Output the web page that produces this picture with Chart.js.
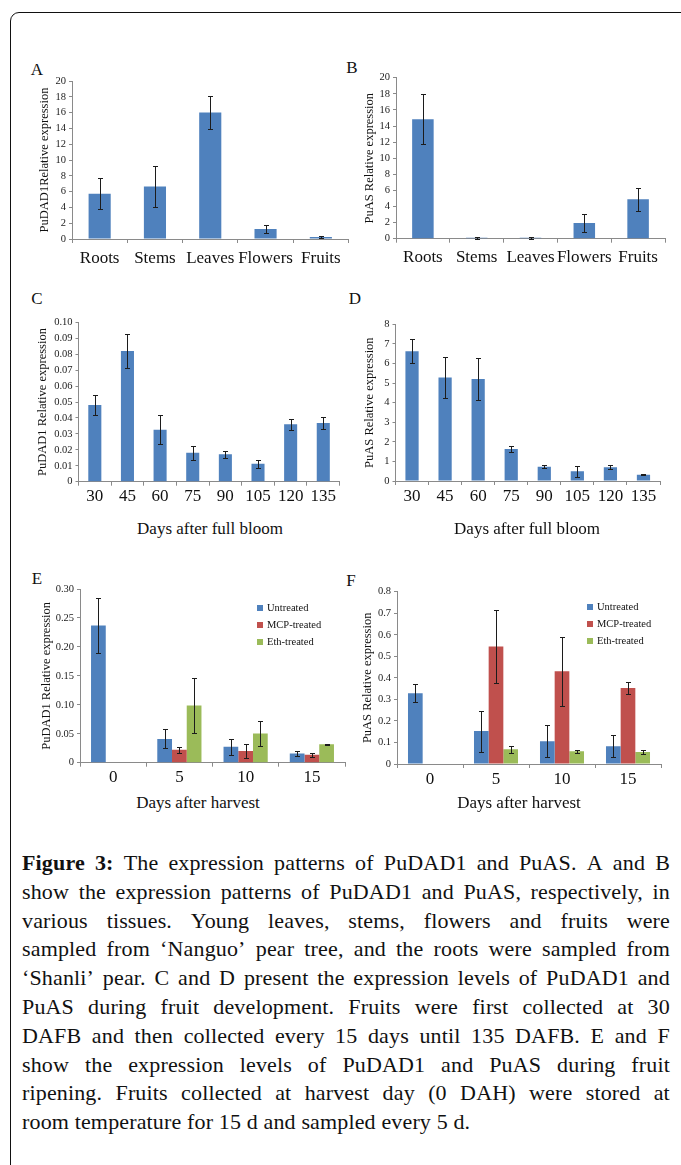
<!DOCTYPE html>
<html>
<head>
<meta charset="utf-8">
<script src="https://cdn.jsdelivr.net/npm/chart.js@4.4.1/dist/chart.umd.min.js"></script>
<style>
  html, body { margin: 0; padding: 0; background: #fff; }
  body { width: 681px; height: 1165px; position: relative; overflow: hidden; font-family: "Liberation Serif", "Times New Roman", serif; color: #111; }
  .frame { position: absolute; left: 10px; top: 12px; width: 740px; height: 1220px; border: 1.5px solid #111; border-radius: 9px; box-sizing: border-box; }
  canvas { position: absolute; }
  .letter { position: absolute; font-size: 17px; line-height: 17px; transform: translate(-50%, -50%); }
  .xtitle { position: absolute; font-size: 17px; line-height: 17px; white-space: nowrap; transform: translate(-50%, -50%); }
  .legend { position: absolute; font-size: 10.5px; line-height: 17px; }
  .legend div { display: flex; align-items: center; white-space: nowrap; }
  .legend span { display: inline-block; width: 6px; height: 6px; margin-right: 4px; }
  .caption { position: absolute; left: 22px; top: 849px; width: 648px; font-size: 22px; line-height: 28.8px; letter-spacing: 0.15px; }
  .caption .line { display: flex; justify-content: space-between; white-space: nowrap; height: 28.8px; }
  .caption .last { display: block; white-space: nowrap; height: 28.8px; }
</style>
</head>
<body>
<div class="frame"></div>

<div class="letter" style="left:37px;top:69px">A</div>
<div class="letter" style="left:352px;top:67px">B</div>
<div class="letter" style="left:37px;top:298px">C</div>
<div class="letter" style="left:355px;top:298px">D</div>
<div class="letter" style="left:37px;top:578px">E</div>
<div class="letter" style="left:351px;top:580px">F</div>

<canvas id="chartA"></canvas>
<canvas id="chartB"></canvas>
<canvas id="chartC"></canvas>
<canvas id="chartD"></canvas>
<canvas id="chartE"></canvas>
<canvas id="chartF"></canvas>

<div class="xtitle" style="left:210px;top:528px">Days after full bloom</div>
<div class="xtitle" style="left:527px;top:528px">Days after full bloom</div>
<div class="xtitle" style="left:198px;top:802px">Days after harvest</div>
<div class="xtitle" style="left:519px;top:802px">Days after harvest</div>

<div class="legend" id="legendE" style="left:257px;top:599px"></div>
<div class="legend" id="legendF" style="left:587px;top:598px"></div>

<div class="caption" id="caption"></div>

<script>
// ---- data ----
const tissues = ['Roots', 'Stems', 'Leaves', 'Flowers', 'Fruits'];
const dafb = ['30', '45', '60', '75', '90', '105', '120', '135'];
const dah = ['0', '5', '10', '15'];
const seriesNames = ['Untreated', 'MCP-treated', 'Eth-treated'];

// A: PuDAD1 in tissues
const dad1Tissue = [5.73, 6.65, 16.0, 1.26, 0.25];
const dad1TissueErr = [1.95, 2.6, 2.05, 0.52, 0.14];
// B: PuAS in tissues
const asTissue = [14.85, 0.12, 0.12, 1.95, 4.9];
const asTissueErr = [3.12, 0.1, 0.12, 1.06, 1.41];
// C: PuDAD1 during development
const dad1Dev = [0.0481, 0.082, 0.0326, 0.0182, 0.0172, 0.0113, 0.0361, 0.0368];
const dad1DevErr = [0.0062, 0.0107, 0.0092, 0.0044, 0.0022, 0.0024, 0.0035, 0.0037];
// D: PuAS during development
const asDev = [6.63, 5.29, 5.21, 1.63, 0.73, 0.5, 0.7, 0.32];
const asDevErr = [0.6, 1.04, 1.08, 0.17, 0.09, 0.28, 0.1, 0.035];
// E: PuDAD1 during ripening
const dad1Untreated = [0.237, 0.041, 0.0276, 0.0161];
const dad1UntreatedErr = [0.048, 0.0164, 0.0135, 0.004];
const dad1Mcp = [null, 0.0222, 0.0202, 0.0136];
const dad1McpErr = [null, 0.005, 0.0127, 0.003];
const dad1Eth = [null, 0.099, 0.0504, 0.0317];
const dad1EthErr = [null, 0.047, 0.021, 0.0012];
// F: PuAS during ripening
const asUntreated = [0.328, 0.153, 0.106, 0.082];
const asUntreatedErr = [0.042, 0.095, 0.074, 0.051];
const asMcp = [null, 0.546, 0.431, 0.353];
const asMcpErr = [null, 0.17, 0.16, 0.028];
const asEth = [null, 0.068, 0.059, 0.056];
const asEthErr = [null, 0.016, 0.007, 0.009];

// y axis ticks
const ticksTissue = [0, 2, 4, 6, 8, 10, 12, 14, 16, 18, 20];
const ticksTissueLabels = ['0', '2', '4', '6', '8', '10', '12', '14', '16', '18', '20'];
const ticksC = [0, 0.01, 0.02, 0.03, 0.04, 0.05, 0.06, 0.07, 0.08, 0.09, 0.10];
const ticksCLabels = ['0', '0.01', '0.02', '0.03', '0.04', '0.05', '0.06', '0.07', '0.08', '0.09', '0.10'];
const ticksD = [0, 1, 2, 3, 4, 5, 6, 7, 8];
const ticksDLabels = ['0', '1', '2', '3', '4', '5', '6', '7', '8'];
const ticksE = [0, 0.05, 0.10, 0.15, 0.20, 0.25, 0.30];
const ticksELabels = ['0', '0.05', '0.10', '0.15', '0.20', '0.25', '0.30'];
const ticksF = [0, 0.1, 0.2, 0.3, 0.4, 0.5, 0.6, 0.7, 0.8];
const ticksFLabels = ['0', '0.1', '0.2', '0.3', '0.4', '0.5', '0.6', '0.7', '0.8'];

const captionLines = [
  'The expression patterns of PuDAD1 and PuAS. A and B',
  'show the expression patterns of PuDAD1 and PuAS, respectively, in',
  'various tissues. Young leaves, stems, flowers and fruits were',
  'sampled from \u2018Nanguo\u2019 pear tree, and the roots were sampled from',
  '\u2018Shanli\u2019 pear. C and D present the expression levels of PuDAD1 and',
  'PuAS during fruit development. Fruits were first collected at 30',
  'DAFB and then collected every 15 days until 135 DAFB. E and F',
  'show the expression levels of PuDAD1 and PuAS during fruit',
  'ripening. Fruits collected at harvest day (0 DAH) were stored at',
  'room temperature for 15 d and sampled every 5 d.'
];

// ---- styling ----
const BLUE = '#4F81BD', RED = '#C0504D', GREEN = '#9BBB59';
const AXIS = '#8a8a8a';
const FONT = '"Liberation Serif", "Times New Roman", serif';

// error bars drawn through the y scale
const errorBars = {
  id: 'errorBars',
  afterDatasetsDraw(chart) {
    const ctx = chart.ctx;
    const y = chart.scales.y;
    chart.data.datasets.forEach((ds, i) => {
      const meta = chart.getDatasetMeta(i);
      meta.data.forEach((bar, j) => {
        const v = ds.data[j], e = ds.errors[j];
        if (v == null || e == null) return;
        const top = Math.round(y.getPixelForValue(v + e)) + 0.5;
        const bot = Math.round(y.getPixelForValue(v - e)) + 0.5;
        const x = Math.round(bar.x) + 0.5;
        ctx.save();
        ctx.strokeStyle = '#1c1c1c';
        ctx.lineWidth = 1;
        ctx.beginPath();
        ctx.moveTo(x, top); ctx.lineTo(x, bot);
        ctx.moveTo(x - 2.5, top); ctx.lineTo(x + 2.5, top);
        ctx.moveTo(x - 2.5, bot); ctx.lineTo(x + 2.5, bot);
        ctx.stroke();
        ctx.restore();
      });
    });
  }
};

function makeChart(id, box, plot, labels, datasets, yTicks, yLabels, yTitle, yTitleX, xPad) {
  const cv = document.getElementById(id);
  cv.style.left = box.x + 'px';
  cv.style.top = box.y + 'px';
  cv.width = box.w;
  cv.height = box.h;
  cv.style.width = box.w + 'px';
  cv.style.height = box.h + 'px';
  const titleSize = 12.5;
  return new Chart(cv, {
    type: 'bar',
    data: { labels: labels, datasets: datasets },
    plugins: [errorBars],
    options: {
      responsive: false,
      animation: false,
      layout: { padding: { top: plot.t - box.y, right: box.x + box.w - plot.r, left: 0, bottom: 0 } },
      plugins: { legend: { display: false }, tooltip: { enabled: false } },
      scales: {
        x: {
          grid: { offset: true, drawOnChartArea: false, tickLength: 4, color: AXIS },
          border: { color: AXIS },
          ticks: { font: { family: FONT, size: 17 }, color: '#111', padding: xPad, maxRotation: 0, autoSkip: false },
          afterFit: s => { s.height = box.y + box.h - plot.b; }
        },
        y: {
          min: 0,
          max: yTicks[yTicks.length - 1],
          afterBuildTicks: s => { s.ticks = yTicks.map(v => ({ value: v })); },
          ticks: { callback: (v, i) => yLabels[i], font: { family: FONT, size: 10.5 }, color: '#222', padding: 3 },
          grid: { drawOnChartArea: false, tickLength: 3, color: AXIS },
          border: { color: AXIS },
          title: {
            display: true, text: yTitle, color: '#111',
            font: { family: FONT, size: titleSize },
            padding: { top: yTitleX - box.x - titleSize * 0.6, bottom: 0 }
          },
          afterFit: s => { s.width = plot.l - box.x; }
        }
      }
    }
  });
}

function single(values, errs) {
  return [{ data: values, errors: errs, backgroundColor: BLUE, borderWidth: 0, barPercentage: 0.4, categoryPercentage: 1 }];
}
function triple(u, ue, m, me, e, ee) {
  const cols = [BLUE, RED, GREEN];
  return [[u, ue], [m, me], [e, ee]].map((p, k) => ({
    label: seriesNames[k], data: p[0], errors: p[1], backgroundColor: cols[k],
    borderWidth: 0, barPercentage: 1, categoryPercentage: 0.667
  }));
}

makeChart('chartA', { x: 20, y: 55, w: 335, h: 220 }, { l: 72, t: 81, r: 348.5, b: 239 },
  tissues, single(dad1Tissue, dad1TissueErr), ticksTissue, ticksTissueLabels, 'PuDAD1Relative expression', 45, 5);
makeChart('chartB', { x: 345, y: 55, w: 336, h: 220 }, { l: 396, t: 77.7, r: 665, b: 238.7 },
  tissues, single(asTissue, asTissueErr), ticksTissue, ticksTissueLabels, 'PuAS Relative expression', 370, 5);
makeChart('chartC', { x: 20, y: 300, w: 330, h: 212 }, { l: 78.5, t: 322.3, r: 339.6, b: 481.7 },
  dafb, single(dad1Dev, dad1DevErr), ticksC, ticksCLabels, 'PuDAD1 Relative expression', 43, 1);
makeChart('chartD', { x: 345, y: 300, w: 336, h: 212 }, { l: 395.5, t: 324.3, r: 660, b: 481 },
  dafb, single(asDev, asDevErr), ticksD, ticksDLabels, 'PuAS Relative expression', 370, 1);
const chartE = makeChart('chartE', { x: 20, y: 570, w: 335, h: 220 }, { l: 80, t: 589, r: 345, b: 762.7 },
  dah, triple(dad1Untreated, dad1UntreatedErr, dad1Mcp, dad1McpErr, dad1Eth, dad1EthErr), ticksE, ticksELabels, 'PuDAD1 Relative expression', 46.5, 1);
const chartF = makeChart('chartF', { x: 345, y: 570, w: 336, h: 220 }, { l: 397, t: 591.7, r: 661, b: 764 },
  dah, triple(asUntreated, asUntreatedErr, asMcp, asMcpErr, asEth, asEthErr), ticksF, ticksFLabels, 'PuAS Relative expression', 368, 1);

// html legends built from the chart datasets
function buildLegend(chart, elId) {
  const el = document.getElementById(elId);
  chart.data.datasets.forEach(ds => {
    const row = document.createElement('div');
    const sw = document.createElement('span');
    sw.style.background = ds.backgroundColor;
    row.appendChild(sw);
    row.appendChild(document.createTextNode(ds.label));
    el.appendChild(row);
  });
}
buildLegend(chartE, 'legendE');
buildLegend(chartF, 'legendF');

// caption, justified line by line
const cap = document.getElementById('caption');
captionLines.forEach((txt, i) => {
  const line = document.createElement('div');
  if (i === captionLines.length - 1) {
    line.className = 'last';
    line.textContent = txt;
  } else {
    line.className = 'line';
    const words = txt.split(' ');
    if (i === 0) {
      ['Figure', '3:'].forEach(w => {
        const b = document.createElement('b');
        b.textContent = w;
        line.appendChild(b);
      });
    }
    words.forEach(w => {
      const s = document.createElement('span');
      s.textContent = w;
      line.appendChild(s);
    });
  }
  cap.appendChild(line);
});
</script>
</body>
</html>
